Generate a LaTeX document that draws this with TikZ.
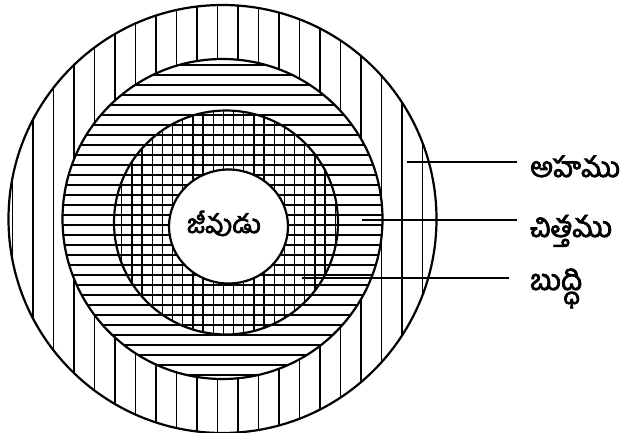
\documentclass[tikz,border=0pt]{standalone}
\usepackage{fontspec}
\newfontfamily\telfont[Script=Telugu, FakeBold=2.6]{Hind Guntur}
\newcommand{\telw}[2]{\resizebox{#1}{!}{\telfont\fontsize{26}{30}\selectfont #2}}
\begin{document}
\begin{tikzpicture}[x=1pt,y=-1pt,
  ring/.style={line width=2.2pt, black},
  hatchv/.style={line width=1.1pt, black},
  hatchh/.style={line width=1.4pt, black},
  hatchg/.style={line width=1.3pt, black},
  leader/.style={line width=2pt, black},
  lbl/.style={inner sep=0pt, anchor=base west},
  core/.style={inner sep=0pt, anchor=base}]
\useasboundingbox (0,0) rectangle (623,432);
% centres
\coordinate (cO) at (222.5,219);
\coordinate (cI) at (226,222.5);
\coordinate (cJ) at (228.5,226.5);
% outer ring: vertical lines
\begin{scope}
  \clip (cO) circle[x radius=214pt, y radius=214pt];
  \foreach \k in {-1,...,20} {
    \draw[hatchv] ({33+20.5*\k},0) -- ({33+20.5*\k},440);
  }
\end{scope}
\fill[white] (cO) circle[x radius=160pt, y radius=160pt];
% middle ring: horizontal lines
\begin{scope}
  \clip (cO) circle[x radius=160pt, y radius=160pt];
  \foreach \k in {0,...,32} {
    \draw[hatchh] (50,{55+10*\k}) -- (400,{55+10*\k});
  }
\end{scope}
% inner disc: grid
\begin{scope}
  \clip (cI) circle[x radius=112pt, y radius=112pt];
  \foreach \k in {-1,...,21} {
    \draw[hatchg] ({121.7+10.17*\k},100) -- ({121.7+10.17*\k},345);
  }
\end{scope}
\fill[white] (cJ) circle[x radius=59.5pt, y radius=57pt];
% outlines
\draw[ring] (cO) circle[x radius=214pt, y radius=214pt];
\draw[ring] (cO) circle[x radius=160pt, y radius=160pt];
\draw[ring] (cI) circle[x radius=112pt, y radius=112pt];
\draw[ring] (cJ) circle[x radius=59.5pt, y radius=57pt];
% centre text
\node[core] (jivudu) at (224,233) {\telw{74pt}{జీవుడు}};
% labels
\node[lbl] (ahamu) at (530,177) {\telw{90pt}{అహము}};
\node[lbl] (chittamu) at (530,237) {\telw{82pt}{చిత్తము}};
\node[lbl] (buddhi) at (530,290) {\telw{52pt}{బుద్ధి}};
\coordinate (pA) at (407,161.5);
\coordinate (pC) at (361.5,220);
\coordinate (pB) at (302,278);
\coordinate (eA) at (516.5,161.5);
\coordinate (eC) at (516.5,220);
\coordinate (eB) at (509,278);
\draw[leader] (pA) -- (eA);
\draw[leader] (pC) -- (eC);
\draw[leader] (pB) -- (eB);
\end{tikzpicture}
\end{document}
